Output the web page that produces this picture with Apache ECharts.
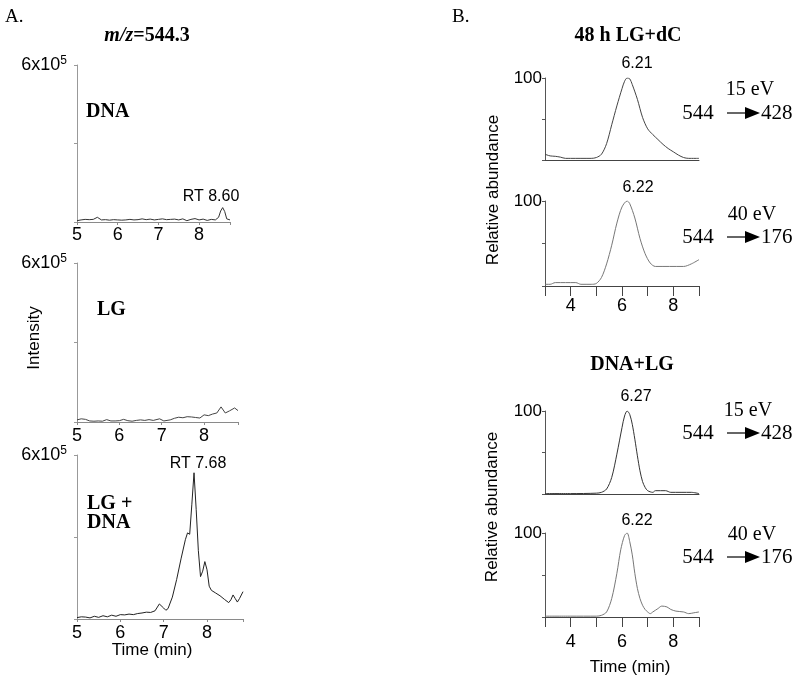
<!DOCTYPE html>
<html>
<head>
<meta charset="utf-8">
<script src="https://cdn.jsdelivr.net/npm/echarts/dist/echarts.min.js"></script>
<style>
  html, body { margin: 0; background: #fff; }
  #chart { width: 800px; height: 680px; }
</style>
</head>
<body>
<div id="chart"></div>
<script>
// A. m/z=544.3 extracted ion chromatograms, intensity in units of 1e5, [time (min), intensity]
const dnaTrace = [[5.0,0.05],[5.1,0.08],[5.2,0.1],[5.3,0.09],[5.4,0.1],[5.5,0.18],[5.6,0.08],[5.7,0.09],[5.8,0.07],[5.9,0.09],
  [6.0,0.08],[6.1,0.07],[6.2,0.08],[6.3,0.1],[6.4,0.08],[6.5,0.09],[6.6,0.12],[6.7,0.09],[6.8,0.11],[6.9,0.08],
  [7.0,0.1],[7.1,0.12],[7.2,0.09],[7.3,0.1],[7.4,0.11],[7.5,0.08],[7.6,0.12],[7.7,0.05],[7.8,0.1],[7.9,0.13],
  [8.0,0.08],[8.1,0.11],[8.2,0.06],[8.3,0.1],[8.4,0.08],[8.48,0.18],[8.53,0.42],[8.58,0.55],[8.63,0.4],[8.68,0.12],[8.76,0.08]]
const lgTrace = [[5.0,0.08],[5.1,0.12],[5.2,0.1],[5.3,0.04],[5.4,0.03],[5.5,0.04],[5.6,0.03],[5.7,0.09],[5.8,0.04],[5.9,0.04],
  [6.0,0.05],[6.1,0.1],[6.2,0.05],[6.3,0.03],[6.4,0.06],[6.5,0.08],[6.6,0.06],[6.7,0.09],[6.8,0.06],[6.95,0.12],
  [7.05,0.04],[7.2,0.08],[7.3,0.14],[7.4,0.18],[7.5,0.16],[7.6,0.2],[7.7,0.19],[7.8,0.17],[7.9,0.15],[8.0,0.27],
  [8.1,0.24],[8.2,0.3],[8.3,0.34],[8.4,0.57],[8.5,0.34],[8.6,0.42],[8.72,0.53],[8.8,0.43]]
const lgDnaTrace = [[5.0,0.05],[5.1,0.08],[5.2,0.07],[5.3,0.04],[5.4,0.1],[5.5,0.06],[5.6,0.12],[5.7,0.08],[5.8,0.14],[5.9,0.1],
  [6.0,0.16],[6.1,0.15],[6.2,0.18],[6.3,0.16],[6.4,0.2],[6.5,0.22],[6.6,0.25],[6.7,0.24],[6.8,0.3],[6.9,0.55],
  [7.0,0.4],[7.05,0.32],[7.1,0.38],[7.2,0.8],[7.3,1.45],[7.4,2.2],[7.5,2.9],[7.55,3.15],[7.6,3.1],[7.65,4.2],
  [7.7,5.35],[7.75,4.0],[7.8,2.5],[7.85,1.55],[7.9,1.75],[7.95,2.1],[8.0,1.8],[8.05,1.2],[8.1,1.05],[8.2,0.95],
  [8.3,0.85],[8.4,0.72],[8.5,0.6],[8.55,0.7],[8.6,0.88],[8.65,0.75],[8.7,0.62],[8.75,0.75],[8.83,1.0]]

// B. MRM traces, relative abundance (%), [time (min), abundance]
const lgdc428 = [[3.0,7],[3.2,5],[3.4,4.5],[3.6,3.5],[3.8,2],[4.0,2],[4.4,2],[4.8,2],[5.0,3],[5.2,7],[5.4,20],[5.6,43],
  [5.8,66],[6.0,87],[6.1,96],[6.2,100],[6.3,99],[6.4,92],[6.6,74],[6.8,52],[7.0,38],[7.2,31],[7.4,25],[7.6,19],
  [7.8,14],[8.0,10],[8.2,6],[8.4,3],[8.6,2],[9.0,2]]
const lgdc176 = [[3.0,2],[3.2,2],[3.4,4],[3.8,4],[4.2,4],[4.4,2],[4.8,2],[5.0,3],[5.2,10],[5.4,26],[5.6,48],[5.8,74],
  [6.0,93],[6.2,100],[6.3,97],[6.5,80],[6.7,56],[6.9,38],[7.1,27],[7.3,23],[8.4,23],[8.7,26],[9.0,31]]
const dnalg428 = [[3.0,0.5],[4.0,0.5],[5.0,1],[5.2,2],[5.4,6],[5.6,20],[5.8,48],[6.0,80],[6.1,94],[6.2,100],[6.3,96],
  [6.4,84],[6.5,66],[6.6,46],[6.7,28],[6.8,15],[6.9,8],[7.0,4],[7.2,2],[7.3,4],[7.7,4],[7.9,2],[8.7,2],[9.0,0.5]]
const dnalg176 = [[3.0,1],[4.0,1],[5.0,1],[5.2,2],[5.4,6],[5.6,22],[5.8,52],[5.95,80],[6.1,97],[6.2,100],[6.3,90],
  [6.4,74],[6.5,52],[6.6,34],[6.7,22],[6.8,14],[6.9,9],[7.0,6],[7.1,4],[7.2,6],[7.4,10],[7.55,13],[7.75,12],
  [7.9,9],[8.1,7],[8.4,6],[8.6,4],[8.8,5],[9.0,6]]

const aTicks = [5, 6, 7, 8]
const bTickLabels = [4, 6, 8]

const SANS = 'Liberation Sans, Arial, sans-serif'
const SERIF = 'Liberation Serif, Times New Roman, serif'

const chart = echarts.init(document.getElementById('chart'))

const grids = [
  { left: 77, top: 65, width: 153, height: 157 },
  { left: 77, top: 263, width: 161, height: 159 },
  { left: 77, top: 455, width: 166, height: 164 },
  { left: 545, top: 78, width: 154, height: 82 },
  { left: 545, top: 201, width: 154, height: 85 },
  { left: 545, top: 411, width: 154, height: 83 },
  { left: 545, top: 533, width: 154, height: 84 }
]

function aXAxis (idx, max, margin) {
  return {
    gridIndex: idx, type: 'value', min: 5, max: max, interval: 1,
    axisLine: { lineStyle: { color: '#8a8a8a', width: 1 } },
    axisTick: { show: true, length: 3, lineStyle: { color: '#8a8a8a' } },
    splitLine: { show: false },
    axisLabel: {
      margin: margin, color: '#000', fontFamily: SANS, fontSize: 18,
      formatter: v => (aTicks.includes(v) ? String(v) : '')
    }
  }
}

function aYAxis (idx) {
  return {
    gridIndex: idx, type: 'value', min: 0, max: 6, interval: 3,
    axisLine: { show: true, lineStyle: { color: '#999', width: 1 } },
    axisTick: { show: true, length: 3, lineStyle: { color: '#999' } },
    splitLine: { show: false },
    axisLabel: {
      margin: 10, color: '#000', fontFamily: SANS,
      formatter: v => (v === 6 ? '{m|6x10}{s|5}' : ''),
      rich: {
        m: { fontSize: 18, fontFamily: SANS, color: '#000', lineHeight: 20 },
        s: { fontSize: 12, fontFamily: SANS, color: '#000', verticalAlign: 'top', lineHeight: 12 }
      }
    }
  }
}

function bXAxis (idx, withTicks, margin) {
  return {
    gridIndex: idx, type: 'value', min: 3, max: 9, interval: 1,
    axisLine: { lineStyle: { color: '#444', width: 1 } },
    axisTick: { show: withTicks, length: 10, lineStyle: { color: '#444' } },
    splitLine: { show: false },
    axisLabel: {
      show: withTicks, margin: margin || 10, color: '#000', fontFamily: SANS, fontSize: 18,
      formatter: v => (bTickLabels.includes(v) ? String(v) : '')
    }
  }
}

function bYAxis (idx) {
  return {
    gridIndex: idx, type: 'value', min: 0, max: 100, interval: 50,
    axisLine: { show: true, lineStyle: { color: '#555', width: 1 } },
    axisTick: { show: true, length: 3, lineStyle: { color: '#555' } },
    splitLine: { show: false },
    axisLabel: {
      margin: 3, color: '#000', fontFamily: SANS, fontSize: 17,
      formatter: v => (v === 100 ? '100' : '')
    }
  }
}

function trace (idx, data, color) {
  return {
    type: 'line', xAxisIndex: idx, yAxisIndex: idx, data: data,
    showSymbol: false, smooth: idx >= 3 ? 0.3 : false,
    lineStyle: { color: color, width: 1 }, silent: true, animation: false
  }
}

// plain text annotations
function txt (x, y, text, font, align, rotate) {
  return {
    type: 'text', x: x, y: y, rotation: rotate || 0, silent: true,
    style: { text: text, font: font, fill: '#000', align: align || 'center', verticalAlign: 'middle' }
  }
}

// "544 —▶ 428" style transition arrow
function transition (y, from, to) {
  return [
    txt(698, y, from, '21px ' + SERIF, 'center'),
    { type: 'line', silent: true, shape: { x1: 727, y1: y, x2: 746, y2: y }, style: { stroke: '#000', lineWidth: 1.2 } },
    { type: 'polygon', silent: true, shape: { points: [[745, y - 6], [760, y], [745, y + 6]] }, style: { fill: '#000' } },
    txt(761, y, to, '21px ' + SERIF, 'left')
  ]
}

const option = {
  backgroundColor: '#fff',
  animation: false,
  grid: grids,
  xAxis: [
    aXAxis(0, 8.76, 4), aXAxis(1, 8.8, 5), aXAxis(2, 8.83, 5),
    bXAxis(3, false), bXAxis(4, true, 11), bXAxis(5, false), bXAxis(6, true, 16)
  ],
  yAxis: [aYAxis(0), aYAxis(1), aYAxis(2), bYAxis(3), bYAxis(4), bYAxis(5), bYAxis(6)],
  series: [
    trace(0, dnaTrace, '#333'),
    trace(1, lgTrace, '#444'),
    trace(2, lgDnaTrace, '#222'),
    trace(3, lgdc428, '#444'),
    trace(4, lgdc176, '#777'),
    trace(5, dnalg428, '#333'),
    trace(6, dnalg176, '#777')
  ],
  graphic: [
    txt(5, 17, 'A.', '19px ' + SERIF, 'left'),
    {
      type: 'text', x: 147, y: 36, silent: true,
      style: {
        text: '{i|m/z}{n|=544.3}', align: 'center', verticalAlign: 'middle',
        rich: {
          i: { font: 'italic bold 20px ' + SERIF, fill: '#000' },
          n: { font: 'bold 20px ' + SERIF, fill: '#000' }
        }
      }
    },
    txt(86, 112, 'DNA', 'bold 20px ' + SERIF, 'left'),
    txt(211, 197, 'RT 8.60', '16px ' + SANS, 'center'),
    txt(97, 310, 'LG', 'bold 20px ' + SERIF, 'left'),
    txt(87, 504, 'LG +', 'bold 20px ' + SERIF, 'left'),
    txt(87, 523, 'DNA', 'bold 20px ' + SERIF, 'left'),
    txt(198, 464, 'RT 7.68', '16px ' + SANS, 'center'),
    txt(34, 338, 'Intensity', '17px ' + SANS, 'center', Math.PI / 2),
    txt(152, 650, 'Time (min)', '17px ' + SANS, 'center'),

    txt(452, 17, 'B.', '19px ' + SERIF, 'left'),
    txt(628, 36, '48 h LG+dC', 'bold 20px ' + SERIF, 'center'),
    txt(637, 64, '6.21', '16px ' + SANS, 'center'),
    txt(750, 90, '15 eV', '20px ' + SERIF, 'center'),
    ...transition(113, '544', '428'),
    txt(638, 188, '6.22', '16px ' + SANS, 'center'),
    txt(752, 215, '40 eV', '20px ' + SERIF, 'center'),
    ...transition(237, '544', '176'),
    txt(493, 190, 'Relative abundance', '17px ' + SANS, 'center', Math.PI / 2),

    txt(632, 365, 'DNA+LG', 'bold 20px ' + SERIF, 'center'),
    txt(636, 397, '6.27', '16px ' + SANS, 'center'),
    txt(748, 411, '15 eV', '20px ' + SERIF, 'center'),
    ...transition(433, '544', '428'),
    txt(637, 521, '6.22', '16px ' + SANS, 'center'),
    txt(752, 535, '40 eV', '20px ' + SERIF, 'center'),
    ...transition(557, '544', '176'),
    txt(492, 507, 'Relative abundance', '17px ' + SANS, 'center', Math.PI / 2),
    txt(630, 667, 'Time (min)', '17px ' + SANS, 'center')
  ]
}

chart.setOption(option)
</script>
</body>
</html>
